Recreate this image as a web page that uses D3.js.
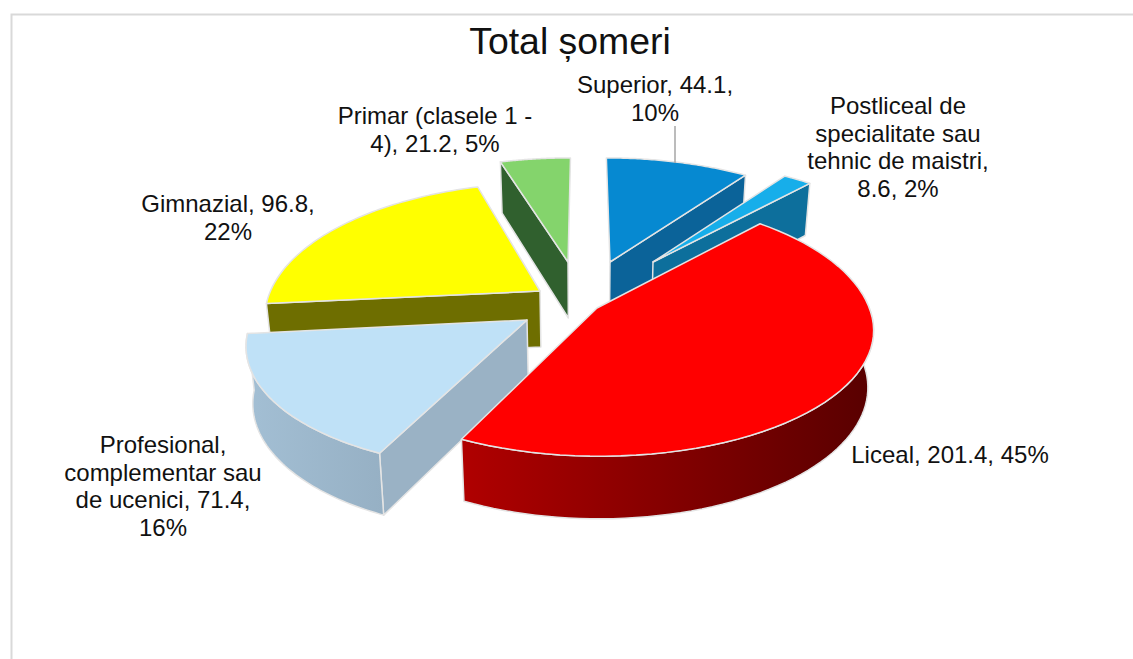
<!DOCTYPE html>
<html><head><meta charset="utf-8">
<style>html,body{margin:0;padding:0;background:#fff}svg{display:block}text{font-family:"Liberation Sans",Arial,sans-serif;fill:#111}</style>
<script src="https://cdn.jsdelivr.net/npm/d3@7/dist/d3.min.js"></script>
</head><body><svg id="c" width="1133" height="659"></svg>
<script>
const title = "Total șomeri";
const categories = ["Superior","Postliceal de specialitate sau tehnic de maistri","Liceal","Profesional, complementar sau de ucenici","Gimnazial","Primar (clasele 1 - 4)"];
const values = [44.1,8.6,201.4,71.4,96.8,21.2];
const labelLines = [
 ["Superior, 44.1,","10%"],
 ["Postliceal de","specialitate sau","tehnic de maistri,","8.6, 2%"],
 ["Liceal, 201.4, 45%"],
 ["Profesional,","complementar sau","de ucenici, 71.4,","16%"],
 ["Gimnazial, 96.8,","22%"],
 ["Primar (clasele 1 -","4), 21.2, 5%"]
];
const topColors  = ["#0689d1","#17aeea","#ff0000","#bfe1f7","#ffff00","#84d46c"];
const wallColors = ["#0b6399","#0d6f9c","#8a0000","#9ab2c5","#6e6e00","#30602e"];
const bandFrom   = ["#0b6399","#0d6f9c","#b00000","#a3bfd4","#6e6e00","#30602e"];
const bandTo     = ["#0b6399","#0d6f9c","#580000","#96b0c4","#6e6e00","#30602e"];
// slice anchors, per-slice shape tweaks and label placement: layout only
const anchorX = [610,653,597,527,540,568];
const anchorY = [262,262,308,320,291,262];
const scaleX  = [0.98,0.99,0.99,1,0.98,1];
const scaleYBack  = [0.99,0.98,1.05,1,1.03,0.99];
const scaleYFront = [1,1,1,1.01,1,1];
const warpFront   = [0,0,0.02,0.03,0,0];
const labelX  = [655,898,950,163,228,435];
const labelY  = [93,114,463,453,212,124];
const drawOrder = [5,4,0,1,3,2];
const R=275, RK=123, P=0.17, DEPTH=56, VX=585, LH=27.6;

const svg=d3.select("#c");
const defs=svg.append("defs");
svg.append("path").attr("d","M11.5 659V14.5H1133").attr("fill","none").attr("stroke","#d9d9d9").attr("stroke-width",2);

const total=d3.sum(values);
const arcs=d3.pie().sort(null).startAngle(0).endAngle(2*Math.PI)(values);
const pct=d3.format(".0%");

function pt(i,a0,r,down){
  const a=(a0>Math.PI&&a0<1.5*Math.PI)?a0-warpFront[i]*Math.sin(2*a0):a0;
  const c=Math.cos(a), s=Math.sin(a);
  const k=1/(1+P*c*r);
  const sy=c>0?scaleYBack[i]:scaleYFront[i];
  let x=anchorX[i]+scaleX[i]*R*r*s*k+(anchorX[i]-VX)*(k-1);
  let y=anchorY[i]-sy*RK*r*c*k;
  if(down){ y+=DEPTH*Math.pow(k,0.6); x+=(VX-x)*0.02; }
  return [x,y];
}
const line=d3.line();
const sample=(a0,a1)=>d3.range(0,61).map(t=>a0+(a1-a0)*t/60);
const STROKE="#e4e4e4";

drawOrder.forEach(i=>{
  const d=arcs[i], a0=d.startAngle, a1=d.endAngle;
  const g=svg.append("g").attr("class","slice").attr("data-cat",categories[i]);
  const wall=a=>[pt(i,a,0,false),pt(i,a,1,false),pt(i,a,1,true),pt(i,a,0,true)];
  const style=s=>s.attr("stroke",STROKE).attr("stroke-width",1.5).attr("stroke-linejoin","round");
  if(Math.sin(a0)<-1e-6) style(g.append("path").attr("d",line(wall(a0))+"Z").attr("fill",wallColors[i]));
  if(Math.sin(a1)>1e-6)  style(g.append("path").attr("d",line(wall(a1))+"Z").attr("fill",wallColors[i]));
  const b0=Math.max(a0,Math.PI/2-0.12), b1=Math.min(a1,3*Math.PI/2);
  if(b1-b0>0.2){
    const as=sample(b0,b1);
    const poly=as.map(a=>pt(i,a,1,false)).concat(as.slice().reverse().map(a=>pt(i,a,1,true)));
    const xs=poly.map(p=>p[0]);
    const id="band"+i;
    const lg=defs.append("linearGradient").attr("id",id).attr("gradientUnits","userSpaceOnUse")
      .attr("x1",d3.min(xs)).attr("x2",d3.max(xs)).attr("y1",0).attr("y2",0);
    lg.append("stop").attr("offset","0%").attr("stop-color",bandFrom[i]);
    lg.append("stop").attr("offset","100%").attr("stop-color",bandTo[i]);
    style(g.append("path").attr("d",line(poly)+"Z").attr("fill",`url(#${id})`));
  }
  const topPts=[pt(i,a0,0,false)].concat(sample(a0,a1).map(a=>pt(i,a,1,false)));
  style(g.append("path").attr("d",line(topPts)+"Z").attr("fill",topColors[i]));
});

svg.append("line").attr("x1",675).attr("x2",675).attr("y1",126).attr("y2",163).attr("stroke","#a6a6a6").attr("stroke-width",1.5);

labelLines.forEach((ls,i)=>{
  const t=svg.append("text").attr("text-anchor","middle").attr("font-size",24)
    .attr("data-value",values[i]).attr("data-share",pct(values[i]/total));
  ls.forEach((l,j)=>t.append("tspan").attr("x",labelX[i]).attr("y",labelY[i]+j*LH).text(l));
});
svg.append("text").attr("x",570).attr("y",54).attr("text-anchor","middle").attr("font-size",37.4).text(title);
</script></body></html>
